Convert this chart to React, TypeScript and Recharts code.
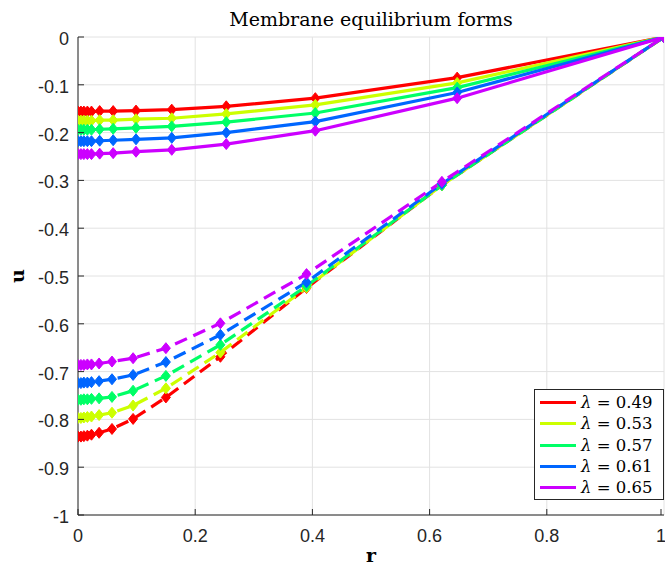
import { CartesianGrid, Legend, Line, LineChart, XAxis, YAxis } from 'recharts'

const LAMBDAS = ['0.49', '0.53', '0.57', '0.61', '0.65']
const COLORS = ['#FF0000', '#CCFF00', '#00FF66', '#0066FF', '#CC00FF']

const X_TICKS = [0, 0.2, 0.4, 0.6, 0.8, 1]
const Y_TICKS = [-1, -0.9, -0.8, -0.7, -0.6, -0.5, -0.4, -0.3, -0.2, -0.1, 0]

// radial nodes of the two solution branches
const R_SOLID = [0, 0.005, 0.01, 0.016, 0.023, 0.037, 0.06, 0.099, 0.16, 0.253, 0.405, 0.647, 1]
const R_DASHED = [0, 0.005, 0.01, 0.016, 0.023, 0.036, 0.058, 0.094, 0.15, 0.243, 0.39, 0.621, 1]

// upper (solid) branch
const U_SOLID_049 = [-0.156, -0.156, -0.156, -0.156, -0.156, -0.155, -0.155, -0.154, -0.152, -0.145, -0.128, -0.085, 0]
const U_SOLID_053 = [-0.175, -0.175, -0.175, -0.175, -0.175, -0.174, -0.174, -0.172, -0.17, -0.161, -0.142, -0.096, 0]
const U_SOLID_057 = [-0.194, -0.194, -0.194, -0.194, -0.194, -0.193, -0.192, -0.19, -0.187, -0.178, -0.159, -0.106, 0]
const U_SOLID_061 = [-0.218, -0.218, -0.218, -0.218, -0.218, -0.217, -0.216, -0.214, -0.211, -0.2, -0.177, -0.116, 0]
const U_SOLID_065 = [-0.245, -0.245, -0.245, -0.245, -0.245, -0.244, -0.243, -0.24, -0.236, -0.224, -0.196, -0.128, 0]

// lower (dashed) branch
const U_DASHED_049 = [-0.836, -0.836, -0.835, -0.834, -0.832, -0.828, -0.82, -0.799, -0.754, -0.669, -0.525, -0.31, 0]
const U_DASHED_053 = [-0.797, -0.797, -0.796, -0.795, -0.794, -0.791, -0.786, -0.771, -0.735, -0.66, -0.524, -0.31, 0]
const U_DASHED_057 = [-0.759, -0.759, -0.758, -0.758, -0.757, -0.756, -0.753, -0.74, -0.709, -0.644, -0.521, -0.31, 0]
const U_DASHED_061 = [-0.724, -0.724, -0.723, -0.723, -0.722, -0.72, -0.716, -0.707, -0.68, -0.623, -0.513, -0.307, 0]
const U_DASHED_065 = [-0.686, -0.686, -0.686, -0.685, -0.685, -0.683, -0.679, -0.672, -0.651, -0.599, -0.496, -0.303, 0]

const SOLID = [U_SOLID_049, U_SOLID_053, U_SOLID_057, U_SOLID_061, U_SOLID_065]
const DASHED = [U_DASHED_049, U_DASHED_053, U_DASHED_057, U_DASHED_061, U_DASHED_065]

const AXIS = '#262626'
const SANS = '"Liberation Sans", Arial, sans-serif'
const SERIF = '"DejaVu Serif", serif'

function toPoints(rs: number[], us: number[]) {
  return rs.map((r, i) => ({ r, u: us[i] }))
}

function diamond(color: string) {
  return (props: any) => {
    const { cx, cy, index } = props
    if (cx == null || cy == null) return <g key={`e-${index}`} />
    return (
      <polygon
        key={`d-${index}`}
        points={`${cx},${cy - 5.5} ${cx + 4.5},${cy} ${cx},${cy + 5.5} ${cx - 4.5},${cy}`}
        fill={color}
        stroke={color}
        strokeWidth={1}
      />
    )
  }
}

function XTick({ x, y, payload }: any) {
  return (
    <g>
      <line x1={x} y1={y} x2={x} y2={y - 6} stroke={AXIS} />
      <text x={x} y={y + 27} textAnchor="middle" fontSize={18} fontFamily={SANS} fill={AXIS}>
        {String(payload.value)}
      </text>
    </g>
  )
}

function YTick({ x, y, payload }: any) {
  return (
    <g>
      <line x1={x} y1={y} x2={x + 6} y2={y} stroke={AXIS} />
      <text x={x - 9} y={y + 8} textAnchor="end" fontSize={18} fontFamily={SANS} fill={AXIS}>
        {String(payload.value)}
      </text>
    </g>
  )
}

function LegendBox() {
  return (
    <div
      style={{
        width: 128,
        height: 107,
        border: `1px solid ${AXIS}`,
        background: '#fff',
        paddingTop: 2,
        boxSizing: 'content-box',
      }}
    >
      {LAMBDAS.map((lam, i) => (
        <div key={lam} style={{ display: 'flex', alignItems: 'center', height: 21.3 }}>
          <div style={{ width: 36, height: 3, background: COLORS[i], marginLeft: 5, marginRight: 5 }} />
          <span style={{ fontFamily: SERIF, fontSize: 16.5, color: '#000', whiteSpace: 'nowrap' }}>
            <i>λ</i> = {lam}
          </span>
        </div>
      ))}
    </div>
  )
}

export default function App() {
  return (
    <div style={{ position: 'relative', width: 665, height: 569, background: '#fff' }}>
      <style>{'body{margin:0}'}</style>
      <div
        style={{
          position: 'absolute',
          top: 10,
          left: 78,
          width: 586,
          textAlign: 'center',
          fontFamily: SERIF,
          fontSize: 19,
          lineHeight: 1,
          color: '#000',
          zIndex: 2,
        }}
      >
        Membrane equilibrium forms
      </div>
      <LineChart width={665} height={569} margin={{ top: 37, right: 1, bottom: 0, left: 0 }}>
        <CartesianGrid stroke="#e2e2e2" strokeWidth={1} />
        <XAxis
          dataKey="r"
          type="number"
          domain={[0, 1]}
          ticks={X_TICKS}
          allowDataOverflow
          height={54}
          tickSize={0}
          tickMargin={0}
          tickLine={false}
          axisLine={{ stroke: AXIS }}
          tick={<XTick />}
          label={{
            content: ({ viewBox }: any) => (
              <text
                x={viewBox.x + viewBox.width / 2}
                y={viewBox.y + 47}
                textAnchor="middle"
                fontFamily={SERIF}
                fontWeight="bold"
                fontSize={19}
                fill="#000"
              >
                r
              </text>
            ),
          }}
        />
        <YAxis
          type="number"
          domain={[-1, 0]}
          ticks={Y_TICKS}
          allowDataOverflow
          width={78}
          tickSize={0}
          tickMargin={0}
          tickLine={false}
          axisLine={{ stroke: AXIS }}
          tick={<YTick />}
          label={{
            content: ({ viewBox }: any) => {
              const cx = viewBox.x + 17
              const cy = viewBox.y + viewBox.height / 2
              return (
                <text
                  x={cx}
                  y={cy}
                  transform={`rotate(-90, ${cx}, ${cy})`}
                  textAnchor="middle"
                  dominantBaseline="central"
                  fontFamily={SERIF}
                  fontWeight="bold"
                  fontSize={19}
                  fill="#000"
                >
                  u
                </text>
              )
            },
          }}
        />
        {LAMBDAS.flatMap((lam, i) => [
          <Line
            key={`s-${lam}`}
            data={toPoints(R_SOLID, SOLID[i])}
            dataKey="u"
            type="linear"
            stroke={COLORS[i]}
            strokeWidth={3.2}
            dot={diamond(COLORS[i])}
            activeDot={false}
            legendType="none"
            isAnimationActive={false}
          />,
          <Line
            key={`d-${lam}`}
            data={toPoints(R_DASHED, DASHED[i])}
            dataKey="u"
            type="linear"
            stroke={COLORS[i]}
            strokeWidth={3.2}
            strokeDasharray="13 7"
            dot={diamond(COLORS[i])}
            activeDot={false}
            legendType="none"
            isAnimationActive={false}
          />,
        ])}
        <Legend
          layout="vertical"
          align="center"
          verticalAlign="middle"
          wrapperStyle={{ position: 'absolute', left: 534, top: 389, width: 130, height: 110 }}
          content={() => <LegendBox />}
        />
      </LineChart>
    </div>
  )
}
